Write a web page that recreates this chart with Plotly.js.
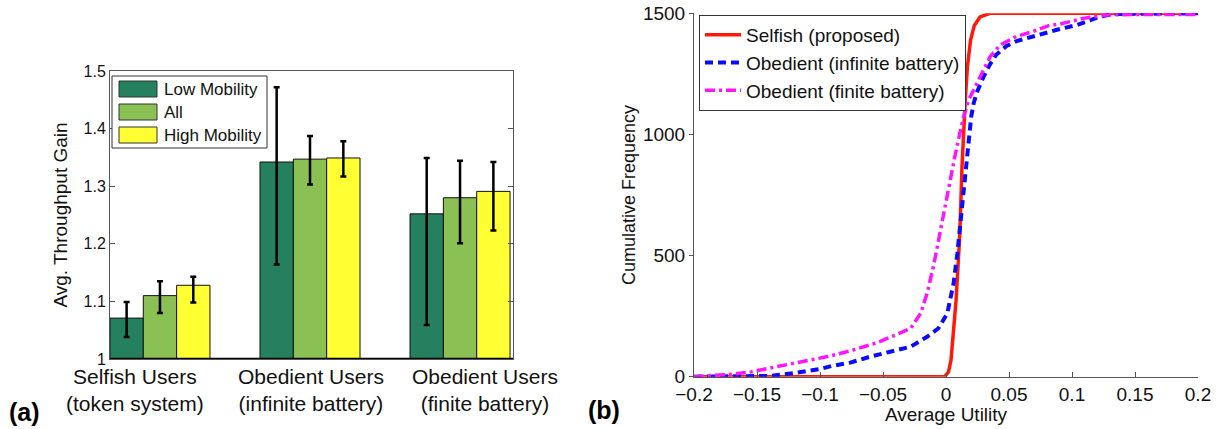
<!DOCTYPE html>
<html>
<head>
<meta charset="utf-8">
<script src="https://cdn.plot.ly/plotly-3.0.1.min.js"></script>
<style>html,body{margin:0;padding:0;background:#fff;}#chart{width:1225px;height:429px;}</style>
</head>
<body>
<div id="chart"></div>
<script>
// ---- Panel (a): bar chart data ----
const groupPositions = [1, 2, 3];
const categories = ["Selfish Users<br>(token system)", "Obedient Users<br>(infinite battery)", "Obedient Users<br>(finite battery)"];
const seriesNames = ["Low Mobility", "All", "High Mobility"];
const seriesColors = ["rgb(37,128,96)", "rgb(138,192,84)", "rgb(255,255,51)"];
const lowMobility = [1.071, 1.342, 1.252];
const lowUpper = [1.099, 1.472, 1.349];
const lowLower = [1.038, 1.164, 1.059];
const allUsers = [1.110, 1.347, 1.280];
const allUpper = [1.135, 1.387, 1.344];
const allLower = [1.080, 1.303, 1.201];
const highMobility = [1.128, 1.349, 1.291];
const highUpper = [1.143, 1.378, 1.342];
const highLower = [1.098, 1.317, 1.223];
const yTicksLeft = [1, 1.1, 1.2, 1.3, 1.4, 1.5];

// ---- Panel (b): CDF data ----
const selfishX = [-0.2, -0.001, 0.002, 0.004, 0.008, 0.011, 0.0127, 0.014, 0.0153, 0.017, 0.0195, 0.0225, 0.027, 0.035, 0.2];
const selfishY = [0, 0, 20, 69, 316, 592, 867, 1030, 1142, 1280, 1390, 1450, 1485, 1500, 1500];
const infX = [-0.2, -0.16, -0.14, -0.12, -0.1, -0.09, -0.076, -0.06, -0.042, -0.028, -0.015, -0.006, 0.001, 0.006, 0.009, 0.011, 0.013, 0.015, 0.018, 0.020, 0.022, 0.025, 0.030, 0.035, 0.040, 0.048, 0.056, 0.069, 0.088, 0.104, 0.122, 0.132, 0.2];
const infY = [0, 0, 3, 15, 32, 45, 58, 83, 105, 124, 165, 200, 261, 385, 509, 619, 729, 839, 977, 1073, 1130, 1180, 1240, 1290, 1330, 1365, 1385, 1405, 1432, 1452, 1486, 1497, 1500];
const finX = [-0.2, -0.19, -0.168, -0.154, -0.134, -0.115, -0.094, -0.075, -0.055, -0.04, -0.028, -0.02, -0.015, -0.01, -0.006, -0.002, 0.003, 0.007, 0.011, 0.014, 0.018, 0.022, 0.027, 0.035, 0.043, 0.051, 0.056, 0.069, 0.082, 0.09, 0.109, 0.127, 0.15, 0.2];
const finY = [0, 4, 11, 21, 41, 62, 83, 108, 140, 172, 200, 262, 344, 454, 564, 674, 798, 908, 1005, 1073, 1142, 1183, 1238, 1321, 1369, 1390, 1405, 1425, 1450, 1455, 1479, 1493, 1495, 1495];
const lineNames = ["Selfish (proposed)", "Obedient (infinite battery)", "Obedient (finite battery)"];
const xTicksRight = [-0.2, -0.15, -0.1, -0.05, 0, 0.05, 0.1, 0.15, 0.2];
const yTicksRight = [0, 500, 1000, 1500];

const FONT = "Liberation Sans, Arial, Helvetica, sans-serif";
const AX = "#555";
const W = 1225, H = 429;

function errUp(v, u) { return v.map((d, i) => u[i] - d); }
function errDn(v, l) { return v.map((d, i) => d - l[i]); }
function barTrace(name, vals, up, lo, color) {
  return {
    type: "bar", name: name, x: groupPositions, y: vals,
    xaxis: "x", yaxis: "y", showlegend: false,
    marker: {color: color, line: {color: "#111", width: 1}},
    error_y: {type: "data", symmetric: false, array: errUp(vals, up), arrayminus: errDn(vals, lo),
              color: "#000", thickness: 2.5, width: 3},
  };
}

const traces = [
  barTrace(seriesNames[0], lowMobility, lowUpper, lowLower, seriesColors[0]),
  barTrace(seriesNames[1], allUsers, allUpper, allLower, seriesColors[1]),
  barTrace(seriesNames[2], highMobility, highUpper, highLower, seriesColors[2]),
  {type: "scatter", mode: "lines", name: lineNames[0], x: selfishX, y: selfishY, xaxis: "x2", yaxis: "y2",
   cliponaxis: false, line: {color: "rgb(255,25,10)", width: 3.5}},
  {type: "scatter", mode: "lines", name: lineNames[1], x: infX, y: infY, xaxis: "x2", yaxis: "y2",
   cliponaxis: false, line: {color: "rgb(10,10,255)", width: 4, dash: "8px,5px"}},
  {type: "scatter", mode: "lines", name: lineNames[2], x: finX, y: finY, xaxis: "x2", yaxis: "y2",
   cliponaxis: false, line: {color: "rgb(255,20,255)", width: 3.5, dash: "10px,4px,3px,4px"}},
];

// custom legend for panel (a): box, wide swatches and labels (pixel layout)
const px = v => v / W, py = v => 1 - v / H;
const legendShapes = [
  {type: "rect", xref: "paper", yref: "paper", x0: px(112), x1: px(267), y0: py(148), y1: py(76),
   fillcolor: "#fff", line: {color: "#333", width: 1}, layer: "above"}
];
const swatchTop = [81, 104, 127];
const legendAnn = [];
seriesNames.forEach((n, i) => {
  legendShapes.push({type: "rect", xref: "paper", yref: "paper", x0: px(119), x1: px(157),
    y0: py(swatchTop[i] + 16), y1: py(swatchTop[i]), fillcolor: seriesColors[i],
    line: {color: "#333", width: 1}, layer: "above"});
  legendAnn.push({text: n, xref: "paper", yref: "paper", x: px(162), y: py(swatchTop[i] + 8.5),
    xanchor: "left", yanchor: "middle", showarrow: false, font: {size: 17, family: FONT, color: "#111"}});
});

const catCenters = [135, 311, 485];
const catAnn = categories.map((c, i) => ({
  text: c, xref: "paper", yref: "paper", x: px(catCenters[i]), y: py(390), xanchor: "center", yanchor: "middle",
  showarrow: false, font: {size: 21, family: FONT, color: "#111"}
}));

const xr = [0.667, 3.353];
const layout = {
  width: W, height: H,
  margin: {l: 0, r: 0, t: 0, b: 0},
  paper_bgcolor: "#fff", plot_bgcolor: "#fff",
  font: {family: FONT, color: "#111"},
  barmode: "group", bargap: 1/3, bargroupgap: 0,
  xaxis: {domain: [110/W, 513/W], range: xr, anchor: "y",
          tickvals: groupPositions, showticklabels: false, ticks: "",
          showline: true, linecolor: AX, linewidth: 1, mirror: true,
          showgrid: false, zeroline: false, fixedrange: true},
  xaxis3: {domain: [110/W, 513/W], range: xr, anchor: "y", overlaying: "x", side: "top",
           tickvals: groupPositions, ticks: "inside", ticklen: 5, tickcolor: AX,
           showticklabels: false, showline: false, showgrid: false, zeroline: false},
  yaxis: {domain: [1 - 359/H, 1 - 71/H], range: [1, 1.5], anchor: "x",
          tickvals: yTicksLeft, ticks: "inside", ticklen: 5, tickcolor: AX,
          tickfont: {size: 16, color: "#111"},
          showline: true, linecolor: AX, linewidth: 1, mirror: "ticks",
          showgrid: false, zeroline: false,
          title: {text: "Avg. Throughput Gain", font: {size: 19, color: "#111"}, standoff: 10}},
  xaxis2: {domain: [694/W, 1198/W], range: [-0.2, 0.2], anchor: "y2",
           tickvals: xTicksRight, ticks: "inside", ticklen: 5, tickcolor: AX,
           tickfont: {size: 19, color: "#111"},
           showline: true, linecolor: AX, linewidth: 1, showgrid: false, zeroline: false,
           title: {text: "Average Utility", font: {size: 19, color: "#111"}, standoff: 2}},
  yaxis2: {domain: [1 - 376.7/H, 1 - 13.3/H], range: [0, 1500], anchor: "x2",
           tickvals: yTicksRight, ticks: "outside", ticklen: 4, tickcolor: AX,
           tickfont: {size: 19, color: "#111"},
           showline: true, linecolor: AX, linewidth: 1, showgrid: false, zeroline: false,
           title: {text: "Cumulative Frequency", font: {size: 18, color: "#111"}, standoff: 2}},
  legend: {x: 699/W, y: 1 - 15/H, xanchor: "left", yanchor: "top",
           bgcolor: "#fff", bordercolor: "#333", borderwidth: 1,
           font: {size: 19, family: FONT, color: "#111"}, itemwidth: 36, tracegroupgap: 0},
  shapes: [
    {type: "line", xref: "x", yref: "y", x0: xr[0], x1: xr[1], y0: 1, y1: 1,
     line: {color: "#000", width: 2.5}, layer: "above"}
  ].concat(legendShapes),
  annotations: [
    {text: "<b>(a)</b>", xref: "paper", yref: "paper", x: px(24), y: py(412), showarrow: false,
     font: {size: 25, family: FONT, color: "#000"}, xanchor: "center", yanchor: "middle"},
    {text: "<b>(b)</b>", xref: "paper", yref: "paper", x: px(604), y: py(410), showarrow: false,
     font: {size: 25, family: FONT, color: "#000"}, xanchor: "center", yanchor: "middle"}
  ].concat(legendAnn, catAnn),
  showlegend: true,
};

Plotly.newPlot("chart", traces, layout, {displayModeBar: false, staticPlot: true});
</script>
</body>
</html>
